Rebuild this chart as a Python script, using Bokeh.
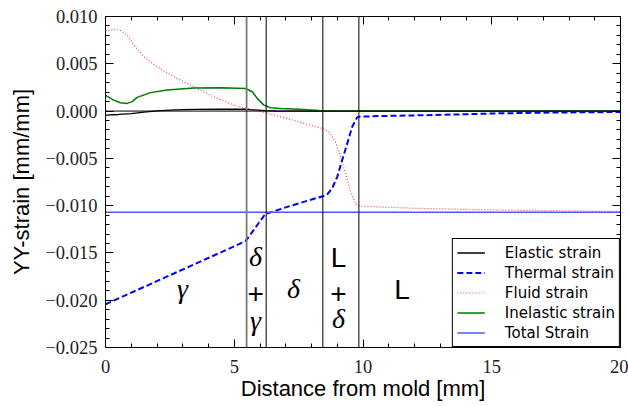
from bokeh.plotting import figure
from bokeh.models import Range1d, FixedTicker, LinearAxis, CustomJSTickFormatter, Span, ColumnDataSource
from bokeh.core.properties import value
from bokeh.embed import file_html
from bokeh.resources import INLINE

# ---------------- data ----------------
elastic_x = [0, 0.5, 1.0, 1.5, 2.0, 2.5, 3.0, 3.5, 4.5, 5.45, 5.8, 6.2, 6.6, 7.5, 20]
elastic_y = [-0.00042, -0.00036, -0.00027, -0.00012, 0.00003, 0.00011, 0.00016, 0.00018,
             0.00019, 0.00019, 0.00012, 0.00004, 0.00001, 0.0, 0.0]

thermal_x = [0, 5.44, 6.2, 7.06, 7.83, 8.44, 8.6, 8.8, 9.0, 9.19, 9.39, 9.58, 9.77, 9.84,
             10.6, 12.75, 15.3, 17.5, 20]
thermal_y = [-0.02043, -0.01376, -0.01090, -0.01013, -0.00949, -0.00900, -0.00885, -0.00818,
             -0.00695, -0.00519, -0.00342, -0.00166, -0.00067, -0.00060, -0.00053, -0.00042,
             -0.00024, -0.00015, -0.00010]

fluid_x = [0, 0.2, 0.39, 0.6, 0.84, 1.1, 1.49, 2.0, 2.65, 3.43, 4.2, 4.98, 5.5, 6.21, 7.06,
           7.7, 8.41, 8.67, 8.93, 9.13, 9.32, 9.51, 9.71, 9.84, 10.6, 12, 14, 16, 18, 20]
fluid_y = [0.00845, 0.00855, 0.00865, 0.00850, 0.00804, 0.00698, 0.00575, 0.00469, 0.00363,
           0.00257, 0.00151, 0.00063, 0.00028, -0.00018, -0.00078, -0.00130, -0.00183,
           -0.00219, -0.00325, -0.00484, -0.00660, -0.00840, -0.00980, -0.01005, -0.01013,
           -0.01028, -0.01040, -0.01049, -0.01055, -0.01060]

inelastic_x = [0, 0.32, 0.58, 0.84, 1.04, 1.23, 1.75, 2.4, 3.43, 4.47, 5.45, 5.7, 5.89, 6.15,
               6.41, 6.8, 7.5, 8.3, 9.0, 10, 15, 20]
inelastic_y = [0.00165, 0.00116, 0.00088, 0.00081, 0.00100, 0.00145, 0.00195, 0.00222,
               0.00243, 0.00247, 0.00238, 0.00204, 0.00134, 0.00063, 0.00035, 0.00028,
               0.00018, 0.00006, 0.00002, 0.0, 0.0, 0.0]

total_x = [0, 20]
total_y = [-0.0107, -0.0107]

phase_boundaries = [5.48, 6.24, 8.44, 9.84]

greek_text = ["γ", "δ", "γ", "δ", "δ"]
greek_x = [2.99, 5.83, 5.83, 7.3, 9.05]
greek_y = [-0.01875, -0.01540, -0.02215, -0.01875, -0.02195]

sans_text = ["+", "L", "+", "L"]
sans_x = [5.83, 9.05, 9.05, 11.52]
sans_y = [-0.01932, -0.01548, -0.01926, -0.01884]

x_ticks = [0, 5, 10, 15, 20]
x_minor = [i for i in range(0, 21)]
y_ticks = [-0.025, -0.020, -0.015, -0.010, -0.005, 0.000, 0.005, 0.010]
y_minor = [round(-0.025 + 0.001 * i, 3) for i in range(0, 36)]

# ---------------- figure ----------------
p = figure(width=628, height=406, x_range=Range1d(0, 20), y_range=Range1d(-0.025, 0.010),
           output_backend="svg", toolbar_location=None,
           min_border_left=105, min_border_right=8, min_border_top=16, min_border_bottom=59)
p.xgrid.visible = False
p.ygrid.visible = False
p.outline_line_color = "black"
p.outline_line_width = 1
p.background_fill_color = "white"
p.border_fill_color = "white"

xfmt = CustomJSTickFormatter(code="return tick.toFixed(0);")
yfmt = CustomJSTickFormatter(code="return (tick < -1e-9 ? '\u2212' : '') + Math.abs(tick).toFixed(3);")
blank = CustomJSTickFormatter(code="return '';")

def style_axis(ax, ticks, minor, fmt, labels=True):
    ax.ticker = FixedTicker(ticks=ticks, minor_ticks=minor)
    ax.formatter = fmt
    ax.major_tick_in = 8
    ax.major_tick_out = 0
    ax.minor_tick_in = 4
    ax.minor_tick_out = 0
    ax.major_tick_line_color = "black"
    ax.minor_tick_line_color = "black"
    ax.axis_line_color = "black"
    ax.major_label_text_font = "Liberation Serif"
    ax.major_label_text_font_size = "18.5px" if labels else "0px"
    ax.major_label_text_color = "#222222"
    if not labels:
        ax.major_label_standoff = 0

bottom_ax = p.xaxis[0]
left_ax = p.yaxis[0]
style_axis(bottom_ax, x_ticks, x_minor, xfmt)
style_axis(left_ax, y_ticks, y_minor, yfmt)
bottom_ax.major_label_standoff = 12
left_ax.major_label_standoff = 8

bottom_ax.axis_label = "Distance from mold [mm]"
left_ax.axis_label = "YY-strain [mm/mm]"
for ax in (bottom_ax, left_ax):
    ax.axis_label_text_font = "Liberation Sans"
    ax.axis_label_text_font_size = "22px"
    ax.axis_label_text_font_style = "normal"
    ax.axis_label_text_color = "black"
bottom_ax.axis_label_standoff = 0
left_ax.axis_label_standoff = 8

top_ax = LinearAxis()
style_axis(top_ax, x_ticks, x_minor, blank, labels=False)
p.add_layout(top_ax, "above")
right_ax = LinearAxis()
style_axis(right_ax, y_ticks, y_minor, blank, labels=False)
p.add_layout(right_ax, "right")

# phase boundaries and zero line
for i, loc in enumerate(phase_boundaries):
    p.add_layout(Span(location=loc, dimension="height",
                      line_color="#7a7a7a" if i == 0 else "black",
                      line_width=1.8 if i == 0 else 1.0))
p.add_layout(Span(location=0, dimension="width", line_color="black", line_width=1.0))

# series
p.line(elastic_x, elastic_y, line_color="black", line_width=1.3, legend_label="Elastic strain")
p.line(thermal_x, thermal_y, line_color="#0000ff", line_width=2, line_dash="6 3",
       legend_label="Thermal strain")
p.line(fluid_x, fluid_y, line_color="#ff2020", line_width=1.2, line_dash="1 2", line_alpha=0.85,
       legend_label="Fluid strain")
p.line(inelastic_x, inelastic_y, line_color="#007a00", line_width=1.5,
       legend_label="Inelastic strain")
p.line(total_x, total_y, line_color="#5555ff", line_width=1.6, legend_label="Total Strain")

# phase annotations
p.text(x="x", y="y", text="text",
       source=ColumnDataSource(dict(x=greek_x, y=greek_y, text=greek_text)),
       text_font=value("Liberation Serif"), text_font_style="italic", text_font_size="28px",
       text_align="center", text_baseline="alphabetic", text_color="black")
p.text(x="x", y="y", text="text",
       source=ColumnDataSource(dict(x=sans_x, y=sans_y, text=sans_text)),
       text_font=value("Liberation Sans"), text_font_size="28px",
       text_align="center", text_baseline="alphabetic", text_color="black")

leg = p.legend[0]
leg.location = "bottom_right"
leg.margin = 0
leg.padding = 4
leg.spacing = 1
leg.glyph_width = 28
leg.glyph_height = 19
leg.label_height = 19
leg.label_width = 110
leg.label_standoff = 20
leg.border_line_color = "black"
leg.border_line_width = 1
leg.border_line_alpha = 1
leg.background_fill_alpha = 1
leg.label_text_font = "DejaVu Sans"
leg.label_text_font_size = "15px"
leg.label_text_color = "black"

open("out.html", "w").write(file_html(p, INLINE))
